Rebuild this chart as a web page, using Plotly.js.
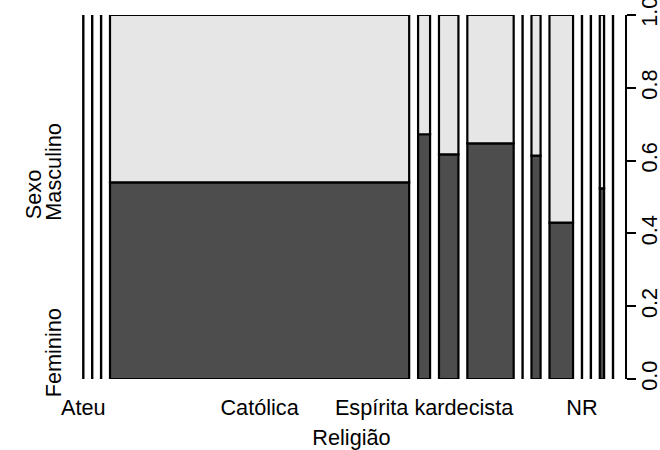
<!DOCTYPE html>
<html>
<head>
<meta charset="utf-8">
<script src="https://cdn.plot.ly/plotly-3.0.1.min.js"></script>
<style>
html,body{margin:0;padding:0;background:#fff;}
#chart{width:660px;height:450px;}
</style>
</head>
<body>
<div id="chart"></div>
<script>
// Religião (categorias, em ordem) e contagens por Sexo
const religioes = ["Ateu","Budista","Candomblé","Católica","Espírita kardecista",
  "Evangélica de missão","Evangélica pentecostal","Judaica","Mórmon","Não tem religião",
  "NR","Outra","Protestante","Umbanda"];
const feminino  = [0,0,0,781,39,58,145,0,27,49,0,0,11,0];
const masculino = [0,0,0,665,19,36,79,0,17,65,0,0,10,0];
const rotulosX  = ["Ateu","","","Católica","Espírita kardecista","","","","","","NR","","",""];
const niveisSexo = ["Feminino","Masculino"];
const ticksY = [0,0.2,0.4,0.6,0.8,1];
const rotulosY = ["0.0","0.2","0.4","0.6","0.8","1.0"];

// spineplot geometry
const off = 0.0215;
const total = feminino.reduce((a,b)=>a+b,0) + masculino.reduce((a,b)=>a+b,0);
const n = religioes.length;
const larg = [], xini = [], xcen = [], pFem = [], pMasc = [];
let acc = 0;
for (let i=0;i<n;i++){
  const t = feminino[i]+masculino[i];
  const w = t/total;
  larg.push(w); xini.push(acc); xcen.push(acc + w/2);
  pFem.push(t>0 ? feminino[i]/t : 0);
  pMasc.push(t>0 ? masculino[i]/t : 0);
  acc += w + off;
}
const idx = [...Array(n).keys()].filter(i=>larg[i]>0);
const idx0 = [...Array(n).keys()].filter(i=>larg[i]===0);

const linha = {color:'#000000', width:2.2};
const traceFem = {
  type:'bar', name:niveisSexo[0],
  x: idx.map(i=>xcen[i]), y: idx.map(i=>pFem[i]), width: idx.map(i=>larg[i]),
  base: idx.map(()=>0),
  marker:{color:'#4d4d4d', line:linha}, hoverinfo:'x+y', xaxis:'x', yaxis:'y'
};
const traceMasc = {
  type:'bar', name:niveisSexo[1],
  x: idx.map(i=>xcen[i]), y: idx.map(i=>pMasc[i]), width: idx.map(i=>larg[i]),
  base: idx.map(i=>pFem[i]),
  marker:{color:'#e6e6e6', line:linha}, hoverinfo:'x+y', xaxis:'x', yaxis:'y'
};
const zx = [], zy = [];
idx0.forEach(i=>{ zx.push(xini[i], xini[i], null); zy.push(0, 1, null); });
const traceZero = {
  type:'scatter', mode:'lines', x: zx, y: zy,
  line:{color:'#000000', width:2.4}, hoverinfo:'skip', xaxis:'x', yaxis:'y'
};
const traceY2 = {type:'scatter', mode:'markers', x:[null], y:[null], xaxis:'x', yaxis:'y2', hoverinfo:'skip'};

const W = 414; // px per unit
const font = {family:'"Liberation Sans", Arial, Helvetica, sans-serif', size:21.7, color:'#000'};
const layout = {
  width:660, height:450,
  margin:{l:78, r:35, t:15, b:71, pad:0},
  paper_bgcolor:'#fff', plot_bgcolor:'#fff',
  showlegend:false, barmode:'overlay', bargap:0,
  font: font,
  xaxis:{
    range:[-5.3/W, (625-83.3)/W], showgrid:false, zeroline:false, showline:false,
    ticks:'', tickvals: xcen, ticktext: rotulosX, tickfont: font, ticklabelstandoff:13,
    title:{text:'Religião', font:font, standoff:11}, automargin:false, fixedrange:true
  },
  yaxis:{
    side:'right', range:[0,1], showgrid:false, zeroline:false,
    showline:true, linecolor:'#000', linewidth:2,
    ticks:'outside', ticklen:9, tickwidth:2, tickcolor:'#000',
    tickvals: ticksY, ticktext: rotulosY, tickangle:-90, tickfont: font,
    ticklabelstandoff:-5, ticklabeloverflow:'allow',
    automargin:false, fixedrange:true
  },
  yaxis2:{
    overlaying:'y', side:'left', range:[0,1], showgrid:false, zeroline:false, showline:false,
    ticks:'', tickvals:[0.0632, 0.56], ticktext: niveisSexo, tickangle:-90, tickfont: font,
    ticklabelstandoff:12, ticklabeloverflow:'allow',
    automargin:false, fixedrange:true
  },
  annotations:[{
    text:'Sexo', textangle:-90, font:font, showarrow:false,
    xref:'paper', yref:'paper', x:0, y:0.505, xanchor:'center', yanchor:'middle', xshift:-45
  }]
};

Plotly.newPlot('chart', [traceFem, traceMasc, traceZero, traceY2], layout, {displayModeBar:false, staticPlot:true});
</script>
</body>
</html>
